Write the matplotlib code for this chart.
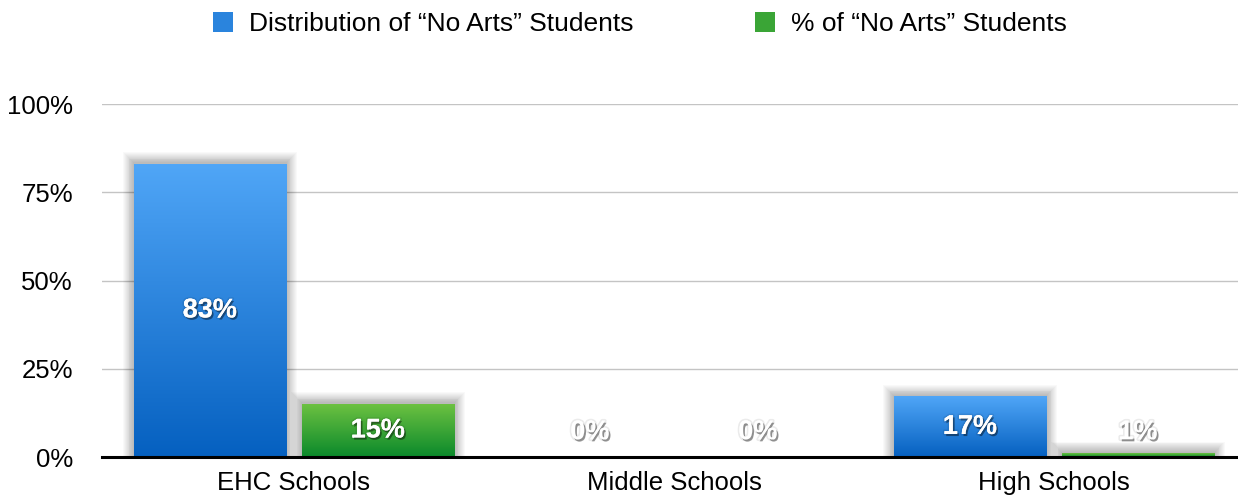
import numpy as np
import matplotlib

matplotlib.use("Agg")

import matplotlib.pyplot as plt
import matplotlib.patheffects as pe
from matplotlib.colors import LinearSegmentedColormap
from matplotlib.patches import Rectangle, Patch

plt.rcParams['font.family'] = ['Liberation Sans', 'DejaVu Sans']

categories = ['EHC Schools', 'Middle Schools', 'High Schools']
series_names = ['Distribution of \u201cNo Arts\u201d Students', '% of \u201cNo Arts\u201d Students']
distribution = [83, 0, 17]
pct_no_arts = [15, 0, 1]
yticks = [0, 25, 50, 75, 100]

# top / bottom gradient colours per series
grad_colors = [('#50a6f7', '#0560c0'), ('#6cc141', '#0a892b')]
mid_colors = ['#2a84dd', '#3aa536']

W, H = 1238, 498
fig = plt.figure(figsize=(W / 100, H / 100), dpi=100)
ax = fig.add_axes([102 / W, 1 - 457 / H, (W - 102) / W, (457 - 104) / H])

XMIN, XMAX = -0.505, 2.484
ax.set_xlim(XMIN, XMAX)
ax.set_ylim(0, 100)

# pixel -> data unit helpers
px_x = (XMAX - XMIN) / (W - 102)
px_y = 100 / (457 - 104)

bar_w = 0.4
offsets = [-0.221, 0.221]

for y in yticks[1:]:
    ax.axhline(y, color='#c4c4c4', lw=1, zorder=0)
ax.axhline(0, color='black', lw=2.2, zorder=5, clip_on=False)


def draw_bar(x, h, top, bottom):
    x0, x1 = x - bar_w / 2, x + bar_w / 2
    # soft drop shadow
    for k in range(12, 0, -1):
        ex, ey = k * 0.9 * px_x, k * 0.9 * px_y
        ax.add_patch(Rectangle((x0 - ex, 0), (x1 - x0) + 2 * ex, h + ey + 1 * px_y,
                               facecolor='black', edgecolor='none', alpha=0.022, zorder=1,
                               linewidth=0))
    cmap = LinearSegmentedColormap.from_list('g', [bottom, top])
    grad = np.linspace(0, 1, 256).reshape(-1, 1)
    ax.imshow(grad, cmap=cmap, origin='lower', aspect='auto',
              extent=[x0, x1, 0, h], zorder=2, interpolation='bilinear')


for i, vals in enumerate([distribution, pct_no_arts]):
    for j, v in enumerate(vals):
        x = j + offsets[i]
        if v > 0:
            draw_bar(x, v, *grad_colors[i])
        ty = max(v / 2, 7)
        ax.text(x, ty, f'{v}%', ha='center', va='center', color='white',
                fontsize=19.5, fontweight='bold', zorder=6,
                path_effects=[pe.withStroke(linewidth=2.5, foreground=(0, 0, 0, 0.08)),
                              pe.SimplePatchShadow(offset=(1.2, -1.5), shadow_rgbFace='black', alpha=0.4),
                              pe.Normal()])

ax.set_xlim(XMIN, XMAX)
ax.set_ylim(0, 100)
ax.set_xticks(range(len(categories)))
ax.set_xticklabels(categories)
ax.set_yticks(yticks)
ax.set_yticklabels([f'{t}%' for t in yticks])
ax.tick_params(axis='both', length=0, labelsize=18.5, colors='black')
ax.tick_params(axis='x', pad=10)
ax.tick_params(axis='y', pad=21)
for s in ax.spines.values():
    s.set_visible(False)

handles = [Patch(facecolor=c, edgecolor='none') for c in mid_colors]
fig.legend(handles, series_names, loc='center', bbox_to_anchor=(0.517, 0.952),
           ncol=2, frameon=False, fontsize=19, handlelength=0.77, handleheight=0.77,
           handletextpad=0.6, columnspacing=4.6)

fig.savefig('out.png', dpi=100)
